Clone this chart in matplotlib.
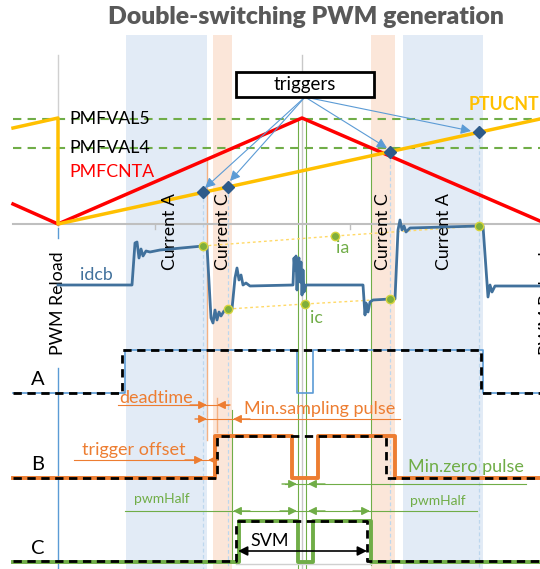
import numpy as np
import matplotlib.pyplot as plt

plt.rcParams['font.family'] = ['Lato', 'DejaVu Sans']

# ---- data (x = time in screen columns, y = level in screen rows) ----
x_start, x_reload, x_peak, x_end = 13, 58, 302, 540

# PMFCNTA triangle counter and PTUCNT sawtooth
pmfcnta_t = [x_start, x_reload, x_peak, x_end]
pmfcnta_v = [204, 224, 118, 221]
ptucnt_t = [x_start, x_reload, x_reload, x_end]
ptucnt_v = [128, 118, 224, 119]
pmfval5 = 119
pmfval4 = 148
axis_y = 224

# trigger instants (current sampling)
trig_t = [203, 228, 390, 479]
trig_tips = [(205, 188), (230, 181), (387, 148), (471, 131)]
trig_src = (305, 97)

# shaded sampling windows
blue_win = [(126, 207), (403, 483)]
orange_win = [(213, 232), (371, 395)]

# dc-link current idcb
idcb_t = [58, 132, 135, 137, 139, 141, 143, 146, 150, 160, 203, 207, 211, 213, 215, 217, 219, 221,
          224, 228, 232, 235, 237, 239, 241, 243, 246, 250, 293, 294, 295, 296, 297, 298, 299, 300,
          301, 302, 303, 304, 306, 363, 365, 366, 368, 370, 373, 390, 395, 398, 400, 402, 404, 406,
          410, 479, 483, 488, 490, 492, 495, 540]
idcb_v = [285, 285, 243, 242, 258, 249, 256, 251, 252, 250, 246, 246, 318, 323, 310, 320, 312, 316,
          311, 309, 309, 278, 268, 280, 275, 285, 283, 286, 285, 258, 270, 256, 290, 262, 258, 282,
          262, 295, 270, 292, 285, 285, 315, 303, 312, 302, 300, 299, 299, 230, 220, 230, 226, 232,
          228, 226, 226, 297, 285, 292, 286, 286]
samp_t = [203, 228, 390, 479]
samp_v = [246, 309, 299, 226]
ia_pt = (335, 236)
ic_pt = (305, 304)

# gate signals: (edges x, levels) ideal (dashed) and real
a_lo, a_hi = 393, 350
b_lo, b_hi = 478, 436
c_lo, c_hi = 561, 521
a_ideal = ([x_start, 122, 122, 481, 481, x_end], [a_lo, a_lo, a_hi, a_hi, a_lo, a_lo])
a_real = ([x_start, 125, 125, 297, 297, 313, 313, 483, 483, x_end],
          [a_lo, a_lo, a_hi, a_hi, a_lo, a_lo, a_hi, a_hi, a_lo, a_lo])
b_ideal = ([x_start, 217, 217, 386, 386, x_end], [b_lo, b_lo, b_hi, b_hi, b_lo, b_lo])
b_real = ([x_start, 215, 215, 292, 292, 318, 318, 395, 395, x_end],
          [b_lo, b_lo, b_hi, b_hi, b_lo, b_lo, b_hi, b_hi, b_lo, b_lo])
c_ideal = ([x_start, 236, 236, 367, 367, x_end], [c_lo, c_lo, c_hi, c_hi, c_lo, c_lo])
c_real = ([x_start, 239, 239, 298, 298, 313, 313, 371, 371, x_end],
          [c_lo + 1, c_lo + 1, c_hi, c_hi, c_lo + 1, c_lo + 1, c_hi, c_hi, c_lo + 1, c_lo + 1])

ORANGE = '#ED7D31'
GREEN = '#70AD47'
BLUE = '#41719C'
LBLUE = '#5B9BD5'
FS = 12.8

fig = plt.figure(figsize=(5.4, 5.69), dpi=100)
ax = fig.add_axes([0, 0, 1, 1])
ax.set_xlim(0, 540)
ax.set_ylim(569, 0)
ax.axis('off')

# title
ax.text(306, 24, 'Double-switching PWM generation', fontsize=17.8, fontweight='heavy',
        color='#595959', ha='center', va='baseline')

# sampling windows
for x0, x1 in blue_win:
    ax.axvspan(x0, x1, ymin=0, ymax=1 - 35 / 569, color='#E2EBF6', zorder=0, lw=0)
for x0, x1 in orange_win:
    ax.axvspan(x0, x1, ymin=0, ymax=1 - 35 / 569, color='#FBE6D9', zorder=0, lw=0)

# reference vertical lines
ax.plot([x_reload, x_reload], [55, 226], color='#D0D0D0', lw=1, zorder=1)
ax.plot([x_reload, x_reload], [368, 569], color=LBLUE, lw=1, zorder=1)
ax.plot([x_reload, x_reload], [228, 238], color=LBLUE, lw=1, zorder=1)
ax.plot([x_peak, x_peak], [55, 569], color='#C8C8C8', lw=1, zorder=1)
for x in trig_t:
    y0 = np.interp(x, ptucnt_t[2:], ptucnt_v[2:])
    ax.plot([x, x], [y0, 569], color='#BDD7EE', lw=0.9, ls=(0, (3, 2)), zorder=1)
for x, y0, y1 in [(298, 120, 569), (306, 120, 569), (371, 148, 565), (232, 410, 560)]:
    ax.plot([x, x], [y0, y1], color=GREEN, lw=0.8, zorder=2)
ax.plot([207, 207], [160, 440], color='#F4B183', lw=1, zorder=2)
ax.plot([217, 217], [398, 432], color='#F4B183', lw=1, zorder=2)

# counters
ax.plot([x_start, x_end], [axis_y, axis_y], color='#BFBFBF', lw=1.5, zorder=2)
for xt in [155, 350]:
    ax.plot([xt, xt], [axis_y, axis_y + 5], color='#BFBFBF', lw=1, zorder=2)
for yv in [pmfval5, pmfval4]:
    ax.plot([x_start, x_end], [yv, yv], color=GREEN, lw=1.5, ls=(0, (4, 3)), zorder=3)
ax.plot(pmfcnta_t, pmfcnta_v, color='#FF0000', lw=2.5, zorder=4)
ax.plot(ptucnt_t, ptucnt_v, color='#FFC000', lw=2.5, zorder=4)
trig_y = np.interp(trig_t, ptucnt_t[2:], ptucnt_v[2:])
ax.plot(trig_t, trig_y, ls='none', marker='D', ms=6, color='#2E5B8A', zorder=6)

ax.text(69, pmfval5, 'PMFVAL5', fontsize=FS, color='black', va='center', ha='left', zorder=5)
ax.text(69, pmfval4, 'PMFVAL4', fontsize=FS, color='black', va='center', ha='left', zorder=5)
ax.text(69, 172, 'PMFCNTA', fontsize=FS, color='#FF0000', va='center', ha='left', zorder=5)
ax.text(539, 104, 'PTUCNT', fontsize=FS, fontweight='bold', color='#FFC000', va='center',
        ha='right', zorder=5)

# triggers box and arrows
ax.add_patch(plt.Rectangle((236, 72), 138, 25, fill=True, facecolor='white', edgecolor='black',
                           lw=2, zorder=6))
ax.text(305, 84, 'triggers', fontsize=13.5, ha='center', va='center', zorder=7)
for tip in trig_tips:
    ax.annotate('', xy=tip, xytext=trig_src,
                arrowprops=dict(arrowstyle='-|>', color=LBLUE, lw=0.8, mutation_scale=15,
                                shrinkA=0, shrinkB=0), zorder=5)

# rotated labels
ax.text(x_reload, 303, 'PWM Reload', rotation=90, fontsize=FS, ha='center', va='center', zorder=5)
ax.text(547, 303, 'PWM Reload', rotation=90, fontsize=FS, ha='center', va='center', zorder=5)
for x, s in [(170, 'Current A'), (223, 'Current C'), (383, 'Current C'), (444, 'Current A')]:
    ax.text(x, 232, s, rotation=90, fontsize=FS, ha='center', va='center', zorder=5)

# idcb current
ax.plot(idcb_t, idcb_v, color=BLUE, lw=2, zorder=5)
ax.text(96, 275, 'idcb', fontsize=FS, color=BLUE, ha='center', va='center')
ax.plot([samp_t[0], ia_pt[0], samp_t[3]], [samp_v[0], ia_pt[1], samp_v[3]], color='#FFD966',
        lw=1, ls=(0, (2, 2)), zorder=4)
ax.plot([samp_t[1], ic_pt[0], samp_t[2]], [samp_v[1], ic_pt[1], samp_v[2]], color='#FFD966',
        lw=1, ls=(0, (2, 2)), zorder=4)
ax.plot(samp_t + [ia_pt[0], ic_pt[0]], samp_v + [ia_pt[1], ic_pt[1]], ls='none', marker='o',
        ms=6, color='#7FAE3C', mec='#D6D43C', mew=1, zorder=6)
ax.text(343, 248, 'ia', fontsize=FS, color=GREEN, ha='center', va='center')
ax.text(316, 318, 'ic', fontsize=FS, color=GREEN, ha='center', va='center')

# gate signals
ax.plot(*a_real, color=LBLUE, lw=1.2, zorder=5)
ax.plot(*a_ideal, color='black', lw=2, ls=(0, (3, 2)), zorder=6)
ax.plot(*b_real, color=ORANGE, lw=2.8, zorder=5)
ax.plot(*b_ideal, color='black', lw=2, ls=(0, (3, 2)), zorder=6)
ax.plot([236, 371], [564, 564], color='#D0D0D0', lw=1, zorder=4)
ax.plot(*c_real, color=GREEN, lw=2.8, zorder=5)
ax.plot(*c_ideal, color='black', lw=2, ls=(0, (3, 2)), zorder=6)
for y, s in [(379, 'A'), (464, 'B'), (548, 'C')]:
    ax.text(38, y, s, fontsize=14.5, ha='center', va='center')


def arrow(tip, start, color, ms=12):
    ax.annotate('', xy=tip, xytext=start,
                arrowprops=dict(arrowstyle='-|>', color=color, lw=1, mutation_scale=ms,
                                shrinkA=0, shrinkB=0), zorder=7)


# orange annotations
ax.text(119, 398, 'deadtime', fontsize=13, color=ORANGE, ha='left', va='center')
ax.plot([118, 228], [405, 405], color=ORANGE, lw=0.8)
arrow((207, 405), (190, 405), ORANGE)
arrow((217, 405), (230, 405), ORANGE)
ax.text(244, 409, 'Min.sampling pulse', fontsize=13, color=ORANGE, ha='left', va='center')
ax.plot([199, 400], [419, 419], color=ORANGE, lw=0.8)
arrow((207, 419), (195, 419), ORANGE)
arrow((233, 419), (250, 419), ORANGE)
ax.text(82, 450, 'trigger offset', fontsize=13, color=ORANGE, ha='left', va='center')
ax.plot([74, 216], [460, 460], color=ORANGE, lw=0.8)
arrow((203, 460), (185, 460), ORANGE)
arrow((208, 460), (218, 460), ORANGE, ms=9)

# green annotations
ax.text(466, 467, 'Min.zero pulse', fontsize=13, color=GREEN, ha='center', va='center')
ax.plot([285, 526], [484, 484], color=GREEN, lw=0.8)
arrow((297, 484), (282, 484), GREEN)
arrow((308, 484), (325, 484), GREEN)
ax.text(162, 499, 'pwmHalf', fontsize=10, color=GREEN, ha='center', va='center')
ax.text(438, 501, 'pwmHalf', fontsize=10, color=GREEN, ha='center', va='center')
ax.plot([125, 477], [511, 511], color=GREEN, lw=0.8)
arrow((233, 511), (250, 511), GREEN)
arrow((297, 511), (280, 511), GREEN)
arrow((308, 511), (325, 511), GREEN)
arrow((370, 511), (353, 511), GREEN)

# SVM span
ax.annotate('', xy=(238, 551), xytext=(367, 551),
            arrowprops=dict(arrowstyle='<|-|>', color='black', lw=1.2, mutation_scale=14,
                            shrinkA=0, shrinkB=0), zorder=8)
ax.text(270, 541, 'SVM', fontsize=13, ha='center', va='center', zorder=8,
        bbox=dict(facecolor='white', edgecolor='none', pad=0.5))

fig.savefig('out.png', dpi=100)
